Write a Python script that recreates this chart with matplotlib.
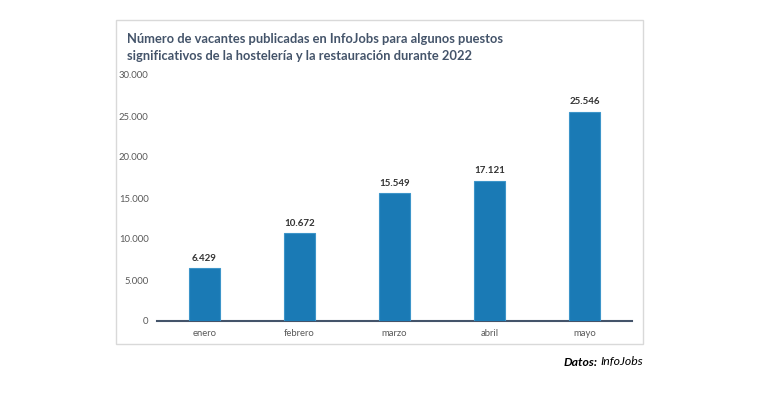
import matplotlib
matplotlib.use("Agg")
import matplotlib.pyplot as plt
from matplotlib.patches import Rectangle
from matplotlib.ticker import FuncFormatter

months = ["enero", "febrero", "marzo", "abril", "mayo"]
vacantes = [6429, 10672, 15549, 17121, 25546]
yticks = [0, 5000, 10000, 15000, 20000, 25000, 30000]

def fmt(v):
    return f"{int(v):,}".replace(",", ".")

plt.rcParams['font.family'] = ['Lato', 'DejaVu Sans']

fig = plt.figure(figsize=(7.7, 4.0), dpi=100)
fig.patch.set_facecolor("white")

frame = Rectangle((116/770, 1-344/400), 527/770, 324/400, transform=fig.transFigure,
                  facecolor="none", edgecolor="#d9d9d9", linewidth=1.0, zorder=-1)
fig.patches.append(frame)

ax = fig.add_axes([157/770, 1-321/400, 475/770, (321-75)/400])
x = range(len(months))
ax.bar(x, vacantes, width=0.32, color="#1a7ab5", edgecolor="#3d95c9", linewidth=0.8, zorder=3)
for xi, v in zip(x, vacantes):
    ax.text(xi, v + 650, fmt(v), ha="center", va="bottom", fontsize=7, fontweight="bold", color="#333333")

ax.set_xlim(-0.5, len(months) - 0.5)
ax.set_ylim(0, 30000)
ax.set_yticks(yticks)
ax.yaxis.set_major_formatter(FuncFormatter(lambda v, p: fmt(v)))
ax.set_xticks(list(x))
ax.set_xticklabels(months)
ax.tick_params(axis="both", length=0, labelsize=6.8, colors="#595959")
ax.tick_params(axis="y", pad=6)
ax.tick_params(axis="x", pad=6)
for s in ["top", "right", "left"]:
    ax.spines[s].set_visible(False)
ax.spines["bottom"].set_color("#44546a")
ax.spines["bottom"].set_linewidth(1.5)
ax.patch.set_alpha(0)

fig.text(127/770, 1-47.5/400, "Número de vacantes publicadas en InfoJobs para algunos puestos\nsignificativos de la hostelería y la restauración durante 2022",
         ha="left", va="center", fontsize=9.3, fontweight="bold", color="#44546a", linespacing=1.5)

t1 = fig.text(643/770, 1-362/400, "InfoJobs", ha="right", va="center", fontsize=8.8, style="italic", color="#000000")
fig.canvas.draw()
bb = t1.get_window_extent()
fig.text((bb.x0 - 3) / 770, 1-362/400, "Datos:", ha="right", va="center", fontsize=8.8,
         style="italic", fontweight="bold", color="#000000")

fig.savefig("out.png", dpi=100, facecolor="white")
